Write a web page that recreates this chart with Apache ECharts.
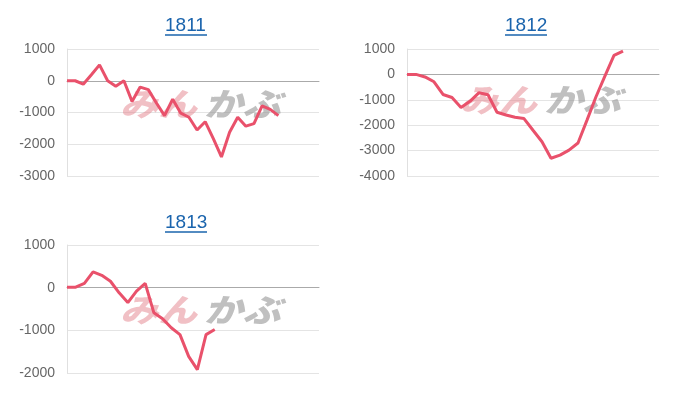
<!DOCTYPE html>
<html>
<head>
<meta charset="utf-8">
<script src="https://cdn.jsdelivr.net/npm/echarts@6/dist/echarts.min.js"></script>
<style>
html,body{margin:0;padding:0;background:#fff;}
#main{width:700px;height:400px;}
</style>
</head>
<body>
<div id="main"></div>
<script>
var titles = ['1811', '1812', '1813'];
var slotCounts = [32, 29, 30];
var values1811 = [0, 0, -110, 190, 500, 0, -170, 0, -650, -200, -280, -700, -1100, -580, -1020, -1150, -1550, -1290, -1820, -2400, -1620, -1150, -1430, -1350, -790, -900, -1100];
var values1812 = [0, 0, -100, -290, -790, -910, -1300, -1060, -720, -800, -1490, -1600, -1690, -1740, -2200, -2650, -3300, -3180, -2980, -2700, -1800, -880, -60, 750, 920];
var values1813 = [10, 10, 100, 370, 290, 150, -120, -350, -80, 100, -590, -730, -940, -1100, -1610, -1920, -1100, -980];
var yMins = [-3000, -4000, -2000];
var yMaxs = [1000, 1000, 1000];
var tickStep = 1000;

var seriesValues = [values1811, values1812, values1813];
var grids = [
  {left: 67, width: 252, top: 49, height: 127},
  {left: 407, width: 252, top: 49, height: 127},
  {left: 67, width: 252, top: 245, height: 128}
];
var titlePos = [[186, 16], [526, 16], [186, 213]];
var markPos = [[120, 88], [460, 84], [120, 294]];

function cats(n){ var a=[]; for(var i=1;i<=n;i++) a.push(String(i)); return a; }

var xAxes = [], yAxes = [], series = [], graphics = [];
for (var k = 0; k < 3; k++) {
  xAxes.push({
    type: 'category', gridIndex: k, data: cats(slotCounts[k]), boundaryGap: false,
    axisLine: {show: true, onZero: true, lineStyle: {color: '#aaaaaa', width: 1}},
    axisTick: {show: false}, axisLabel: {show: false}, splitLine: {show: false}
  });
  yAxes.push({
    type: 'value', gridIndex: k, min: yMins[k], max: yMaxs[k], interval: tickStep,
    axisLine: {show: true, lineStyle: {color: '#e0e0e0'}},
    axisTick: {show: false},
    axisLabel: {color: '#666666', fontSize: 14, margin: 12, fontFamily: 'Liberation Sans, Arial, sans-serif',
      formatter: function (v) { return String(v); }},
    splitLine: {show: true, lineStyle: {color: '#e4e4e4', width: 1}}
  });
  series.push({
    type: 'line', xAxisIndex: k, yAxisIndex: k, data: seriesValues[k],
    symbol: 'none', smooth: false, z: 5,
    lineStyle: {color: '#e9516b', width: 3}
  });
  graphics.push({
    type: 'text', left: titlePos[k][0] - 21, top: titlePos[k][1],
    style: {text: titles[k], fill: '#1a64ad', font: '19px "Liberation Sans", Arial, sans-serif'}
  });
  graphics.push({
    type: 'line', shape: {x1: titlePos[k][0] - 21, y1: titlePos[k][1] + 19, x2: titlePos[k][0] + 21, y2: titlePos[k][1] + 19},
    style: {stroke: '#1a64ad', lineWidth: 1.5}
  });
  graphics.push({
    type: 'text', x: markPos[k][0], y: markPos[k][1], z: 1, scaleX: 1.2,
    style: {text: 'みん', fill: 'rgba(228,130,140,0.5)', font: 'italic 900 32px "Noto Sans CJK JP", sans-serif'}
  });
  graphics.push({
    type: 'text', x: markPos[k][0] + 84, y: markPos[k][1], z: 1, scaleX: 1.2,
    style: {text: 'かぶ', fill: 'rgba(150,150,150,0.6)', font: 'italic 900 32px "Noto Sans CJK JP", sans-serif'}
  });
}

var chart = echarts.init(document.getElementById('main'), null, {renderer: 'canvas'});
chart.setOption({
  animation: false,
  backgroundColor: '#ffffff',
  grid: grids,
  xAxis: xAxes,
  yAxis: yAxes,
  series: series,
  graphic: graphics
});
</script>
</body>
</html>
